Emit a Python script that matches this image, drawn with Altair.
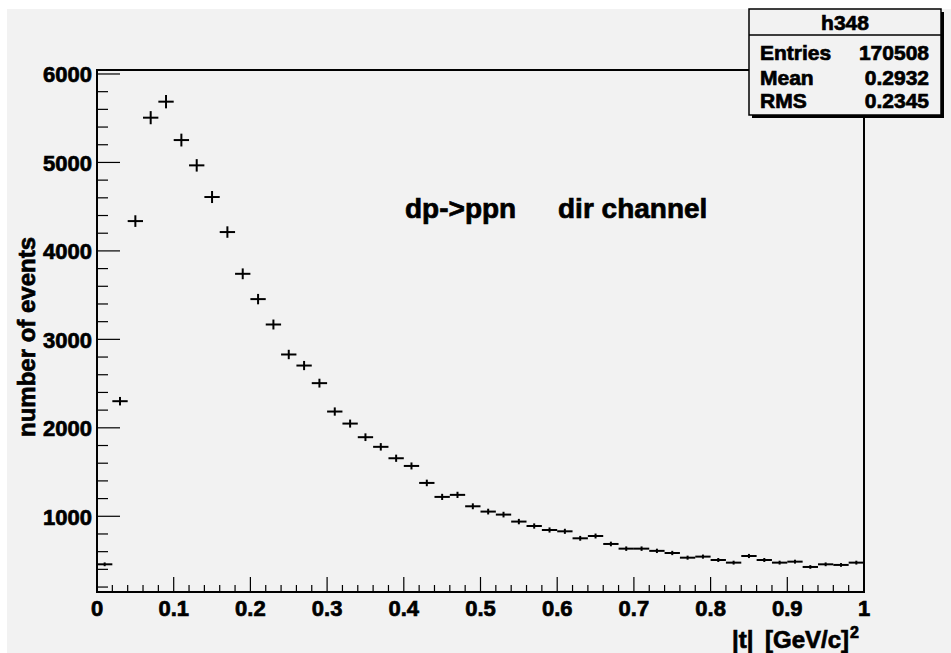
import altair as alt
import pandas as pd
import numpy as np

# ---- data ----
t_center = [0.01, 0.03, 0.05, 0.07, 0.09, 0.11, 0.13, 0.15, 0.17, 0.19,
            0.21, 0.23, 0.25, 0.27, 0.29, 0.31, 0.33, 0.35, 0.37, 0.39,
            0.41, 0.43, 0.45, 0.47, 0.49, 0.51, 0.53, 0.55, 0.57, 0.59,
            0.61, 0.63, 0.65, 0.67, 0.69, 0.71, 0.73, 0.75, 0.77, 0.79,
            0.81, 0.83, 0.85, 0.87, 0.89, 0.91, 0.93, 0.95, 0.97, 0.99]
counts = [457, 2301, 4337, 5506, 5687, 5253, 4967, 4609, 4213, 3741,
          3455, 3168, 2829, 2704, 2505, 2184, 2048, 1894, 1785, 1656,
          1569, 1377, 1219, 1242, 1113, 1053, 1019, 940, 890, 845,
          830, 751, 777, 687, 634, 634, 609, 585, 532, 544,
          506, 476, 551, 506, 476, 487, 427, 457, 450, 476]
bin_half = 0.01

x_major = [0, 0.1, 0.2, 0.3, 0.4, 0.5, 0.6, 0.7, 0.8, 0.9, 1.0]
x_major_labels = ["0", "0.1", "0.2", "0.3", "0.4", "0.5", "0.6", "0.7", "0.8", "0.9", "1"]
x_minor = [0.02, 0.04, 0.06, 0.08, 0.12, 0.14, 0.16, 0.18, 0.22, 0.24, 0.26, 0.28,
           0.32, 0.34, 0.36, 0.38, 0.42, 0.44, 0.46, 0.48, 0.52, 0.54, 0.56, 0.58,
           0.62, 0.64, 0.66, 0.68, 0.72, 0.74, 0.76, 0.78, 0.82, 0.84, 0.86, 0.88,
           0.92, 0.94, 0.96, 0.98]
y_major = [1000, 2000, 3000, 4000, 5000, 6000]
y_major_labels = ["1000", "2000", "3000", "4000", "5000", "6000"]
y_minor = [200, 400, 600, 800, 1200, 1400, 1600, 1800, 2200, 2400, 2600, 2800,
           3200, 3400, 3600, 3800, 4200, 4400, 4600, 4800, 5200, 5400, 5600, 5800]

stats_labels = ["Entries", "Mean", "RMS"]
stats_values = ["170508", "0.2932", "0.2345"]
hist_name = "h348"
plot_label = ["dp->ppn", "dir channel"]
x_title = ["|t|", "[GeV/c]", "2"]
y_title = "number of events"

FONT = "Liberation Sans"
W, H = 767, 522
PL, PT = 97, 70
SW = 0.7  # stroke to thicken bold text

df = pd.DataFrame({"t": t_center, "n": counts})
df["lo"] = df["t"] - bin_half
df["hi"] = df["t"] + bin_half
df["err"] = np.sqrt(df["n"])
df["nlo"] = df["n"] - df["err"]
df["nhi"] = df["n"] + df["err"]

xs = alt.Scale(domain=[0, 1], nice=False, zero=False)
ys = alt.Scale(domain=[144, 6045], nice=False, zero=False)

one = pd.DataFrame({"d": [0]})
TXT = dict(font=FONT, fontWeight="bold", color="black", stroke="black", strokeWidth=SW)

hbars = alt.Chart(df).mark_rule(color="black", strokeWidth=2).encode(
    x=alt.X("lo:Q", scale=xs, axis=None), x2="hi:Q",
    y=alt.Y("n:Q", scale=ys, axis=None))
vbars = alt.Chart(df).mark_rule(color="black", strokeWidth=2).encode(
    x=alt.X("t:Q", scale=xs, axis=None), y=alt.Y("nlo:Q", scale=ys, axis=None), y2="nhi:Q")

# white strips of the canvas edge
strip_l = alt.Chart(one).mark_rect(color="white").encode(
    x=alt.value(-PL), x2=alt.value(-PL + 7), y=alt.value(-PT), y2=alt.value(653 - PT))
strip_t = alt.Chart(one).mark_rect(color="white").encode(
    x=alt.value(-PL), x2=alt.value(951 - PL), y=alt.value(-PT), y2=alt.value(-PT + 9))

# inward ticks
ymaj = alt.Chart(pd.DataFrame({"v": y_major})).mark_rule(color="black", strokeWidth=1.2).encode(
    y=alt.Y("v:Q", scale=ys), x=alt.value(0), x2=alt.value(23))
ymin = alt.Chart(pd.DataFrame({"v": y_minor})).mark_rule(color="black", strokeWidth=1.2).encode(
    y=alt.Y("v:Q", scale=ys), x=alt.value(0), x2=alt.value(11))
xmaj = alt.Chart(pd.DataFrame({"v": x_major})).mark_rule(color="black", strokeWidth=1.2).encode(
    x=alt.X("v:Q", scale=xs), y=alt.value(H), y2=alt.value(H - 15))
xmin = alt.Chart(pd.DataFrame({"v": x_minor})).mark_rule(color="black", strokeWidth=1.2).encode(
    x=alt.X("v:Q", scale=xs), y=alt.value(H), y2=alt.value(H - 7))

# tick labels (positioned by the scales)
ylab = alt.Chart(pd.DataFrame({"v": y_major, "s": y_major_labels})).mark_text(
    fontSize=22, align="right", baseline="alphabetic", dy=8.5, **TXT).encode(
    y=alt.Y("v:Q", scale=ys), x=alt.value(-5), text="s:N")
xlab = alt.Chart(pd.DataFrame({"v": x_major, "s": x_major_labels})).mark_text(
    fontSize=22, align="center", baseline="alphabetic", **TXT).encode(
    x=alt.X("v:Q", scale=xs), y=alt.value(H + 24), text="s:N")

def txt(s, x, y, size, align="left", baseline="alphabetic", angle=0):
    kw = dict(fontSize=size, align=align, baseline=baseline, **TXT)
    if angle:
        kw["angle"] = angle
    return alt.Chart(pd.DataFrame({"s": [s]})).mark_text(**kw).encode(
        text="s:N", x=alt.value(x), y=alt.value(y))

# plot label
lab1 = txt(plot_label[0], 405 - PL, 218 - PT, 28)
lab2 = txt(plot_label[1], 558 - PL, 218 - PT, 28)

# axis titles
ytit = txt(y_title, 35 - PL, 337 - PT, 24, align="center", angle=270)
xt1 = txt(x_title[0], 732 - PL, 648 - PT, 24)
xt2 = txt(x_title[1], 849 - PL, 648 - PT, 24, align="right")
xsup = txt(x_title[2], 850 - PL, 638 - PT, 16)

# stats box
bx0, bx1, by0, by1 = 749 - PL, 941 - PL, 9 - PT, 115 - PT
shadow = alt.Chart(one).mark_rect(color="black").encode(
    x=alt.value(bx0 + 3), x2=alt.value(bx1 + 3), y=alt.value(by0 + 3), y2=alt.value(by1 + 3))
box = alt.Chart(one).mark_rect(fill="#f2f2f2", stroke="black", strokeWidth=1.5).encode(
    x=alt.value(bx0), x2=alt.value(bx1), y=alt.value(by0), y2=alt.value(by1))
sep = alt.Chart(one).mark_rule(color="black", strokeWidth=1.5).encode(
    x=alt.value(bx0), x2=alt.value(bx1), y=alt.value(35 - PT))
st_title = txt(hist_name, 845 - PL, 30 - PT, 21, align="center")
st_rows = []
for lab, val, yb in zip(stats_labels, stats_values, [60, 85, 108]):
    st_rows.append(txt(lab, 760 - PL, yb - PT, 21))
    st_rows.append(txt(val, 929 - PL, yb - PT, 21, align="right"))

chart = alt.layer(
    hbars, vbars, strip_l, strip_t, ymaj, ymin, xmaj, xmin, ylab, xlab,
    lab1, lab2, ytit, xt1, xt2, xsup,
    shadow, box, sep, st_title, *st_rows
).properties(
    width=W, height=H,
    autosize=alt.AutoSizeParams(type="none"),
    padding={"left": PL, "top": PT, "right": 951 - PL - W, "bottom": 653 - PT - H},
    background="#f2f2f2",
).configure_view(stroke="black", strokeWidth=2)

chart.save("out.html", embed_options={"renderer": "svg", "actions": False})
